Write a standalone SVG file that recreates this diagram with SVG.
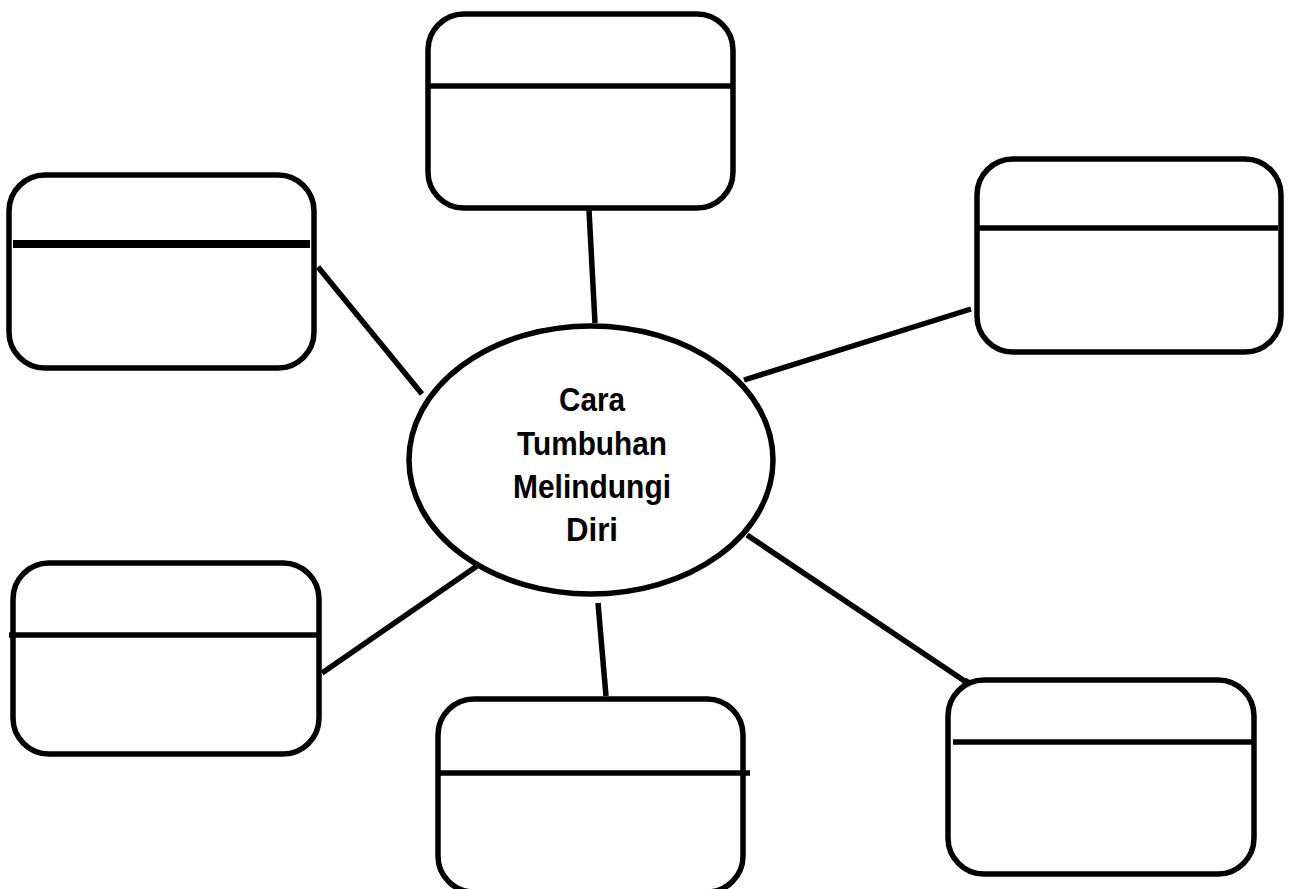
<svg xmlns="http://www.w3.org/2000/svg" width="1296" height="889" viewBox="0 0 1296 889">
<style>
.box{fill:#fff;stroke:#000;stroke-width:5.5}
.div{stroke:#000;stroke-width:5.5}
.con line{stroke:#000;stroke-width:5.5}
.lbl{font-family:"Liberation Sans",Arial,sans-serif;font-weight:bold;font-size:33px;fill:#000;text-anchor:middle}
</style>
<rect width="1296" height="889" fill="#fff"/>
<g id="connectors" class="con">
<line x1="589" y1="210" x2="595" y2="323"/>
<line x1="318" y1="267" x2="422" y2="394"/>
<line x1="744" y1="380" x2="971" y2="309"/>
<line x1="322" y1="673" x2="477" y2="566"/>
<line x1="598" y1="603" x2="606" y2="696"/>
<line x1="747" y1="535" x2="975" y2="688"/>
<line x1="964" y1="681" x2="976" y2="689" style="stroke-width:8"/>
</g>
<g id="node-top">
<rect class="box" x="428" y="14" width="305" height="194" rx="36"/>
<line class="div" x1="428" y1="86" x2="733" y2="86"/>
</g>
<g id="node-left-top">
<rect class="box" x="9" y="175" width="305" height="193" rx="36"/>
<line class="div" x1="13" y1="244" x2="310" y2="244" style="stroke-width:8"/>
</g>
<g id="node-right-top">
<rect class="box" x="977" y="159" width="304" height="193" rx="36"/>
<line class="div" x1="977" y1="228" x2="1278" y2="228"/>
</g>
<g id="node-left-bottom">
<rect class="box" x="13" y="563" width="306" height="191" rx="36"/>
<line class="div" x1="9" y1="635" x2="318" y2="635"/>
</g>
<g id="node-bottom">
<rect class="box" x="438" y="699" width="305" height="193" rx="36"/>
<line class="div" x1="440" y1="773" x2="750" y2="773"/>
</g>
<g id="node-right-bottom">
<rect class="box" x="948" y="680" width="306" height="194" rx="36"/>
<line class="div" x1="953" y1="742" x2="1252" y2="742"/>
</g>
<g id="node-center">
<ellipse class="box" cx="591" cy="460" rx="182" ry="134"/>
<text class="lbl" x="592" y="411" textLength="66" lengthAdjust="spacingAndGlyphs">Cara</text>
<text class="lbl" x="592" y="455" textLength="150" lengthAdjust="spacingAndGlyphs">Tumbuhan</text>
<text class="lbl" x="592" y="498" textLength="158" lengthAdjust="spacingAndGlyphs">Melindungi</text>
<text class="lbl" x="592" y="541" textLength="52" lengthAdjust="spacingAndGlyphs">Diri</text>
</g>
</svg>
